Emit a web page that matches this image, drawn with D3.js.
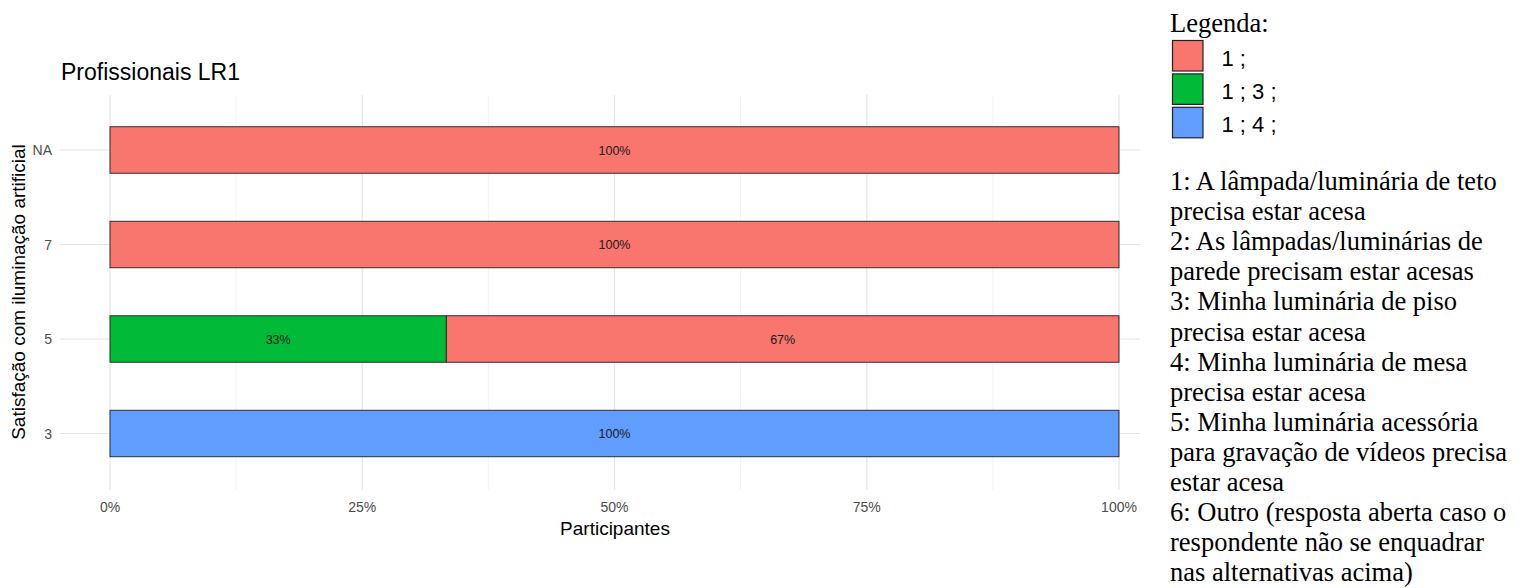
<!DOCTYPE html>
<html><head><meta charset="utf-8">
<script src="https://cdn.jsdelivr.net/npm/d3@7"></script>
<style>body{margin:0;background:#fff}</style>
</head><body>
<svg id="c" width="1523" height="588"></svg>
<script>
const categories = ["NA", "7", "5", "3"];
const groups = ["1 ;", "1 ; 3 ;", "1 ; 4 ;"];
const colors = ["#F8766D", "#00BA38", "#619CFF"];
// stacked segments per category (order left to right)
const segCategory = ["NA", "7", "5", "5", "3"];
const segGroup    = ["1 ;", "1 ;", "1 ; 3 ;", "1 ;", "1 ; 4 ;"];
const segValue    = [1.0, 1.0, 1/3, 2/3, 1.0];
const segLabel    = ["100%", "100%", "33%", "67%", "100%"];
const xTicks = [0, 0.25, 0.5, 0.75, 1];
const xMinor = [0.125, 0.375, 0.625, 0.875];
const notes = [
 "1: A lâmpada/luminária de teto", "precisa estar acesa",
 "2: As lâmpadas/luminárias de", "parede precisam estar acesas",
 "3: Minha luminária de piso", "precisa estar acesa",
 "4: Minha luminária de mesa", "precisa estar acesa",
 "5: Minha luminária acessória", "para gravação de vídeos precisa", "estar acesa",
 "6: Outro (resposta aberta caso o", "respondente não se enquadrar", "nas alternativas acima)"
];

const sans = "Arial, Liberation Sans, sans-serif";
const serif = "Times New Roman, Liberation Serif, serif";
const svg = d3.select("#c");
const x = d3.scaleLinear().domain([0,1]).range([110,1119]);
const y = d3.scalePoint().domain(categories).range([150,433.5]);
const color = d3.scaleOrdinal().domain(groups).range(colors);
const panelL = 60, panelR = 1140, panelT = 95, panelB = 490;
const barH = 46.5;

// grid
const g = svg.append("g");
g.selectAll(".minor").data(xMinor).join("line")
 .attr("x1", d=>x(d)).attr("x2", d=>x(d)).attr("y1", panelT).attr("y2", panelB)
 .attr("stroke", "#ebebeb").attr("stroke-width", 0.6);
g.selectAll(".major").data(xTicks).join("line")
 .attr("x1", d=>x(d)).attr("x2", d=>x(d)).attr("y1", panelT).attr("y2", panelB)
 .attr("stroke", "#e6e6e6").attr("stroke-width", 1.2);
g.selectAll(".hmaj").data(categories).join("line")
 .attr("x1", panelL).attr("x2", panelR).attr("y1", d=>y(d)).attr("y2", d=>y(d))
 .attr("stroke", "#e6e6e6").attr("stroke-width", 1.2);

// bars
const segs = segValue.map((v,i)=>{
  let start = 0;
  for (let j=0;j<i;j++) if (segCategory[j]===segCategory[i]) start += segValue[j];
  return {cat: segCategory[i], grp: segGroup[i], x0: start, x1: start+v, label: segLabel[i]};
});
svg.append("g").selectAll("rect").data(segs).join("rect")
 .attr("x", d=>x(d.x0)).attr("width", d=>x(d.x1)-x(d.x0))
 .attr("y", d=>y(d.cat)-barH/2).attr("height", barH)
 .attr("fill", d=>color(d.grp)).attr("stroke", "#222").attr("stroke-width", 0.9);
svg.append("g").selectAll("text").data(segs).join("text")
 .attr("x", d=>x((d.x0+d.x1)/2)).attr("y", d=>y(d.cat)+4.5)
 .attr("text-anchor","middle").attr("font-family",sans)
 .attr("font-size", 12.5).attr("fill","#1a1a1a").text(d=>d.label);

// axes labels
svg.append("g").selectAll("text").data(xTicks).join("text")
 .attr("x", d=>x(d)).attr("y", 512).attr("text-anchor","middle")
 .attr("font-family",sans).attr("font-size", 14).attr("fill","#4d4d4d")
 .text(d=>d3.format(".0%")(d));
svg.append("g").selectAll("text").data(categories).join("text")
 .attr("x", 52).attr("y", d=>y(d)+5).attr("text-anchor","end")
 .attr("font-family",sans).attr("font-size", 14).attr("fill","#4d4d4d")
 .text(d=>d);
svg.append("text").attr("x", 615).attr("y", 535).attr("text-anchor","middle")
 .attr("font-family",sans).attr("font-size", 19).attr("fill","#000")
 .text("Participantes");
svg.append("text").attr("transform","translate(25,292) rotate(-90)").attr("text-anchor","middle")
 .attr("font-family",sans).attr("font-size", 19).attr("fill","#000")
 .text("Satisfação com iluminação artificial");
svg.append("text").attr("x", 61).attr("y", 80)
 .attr("font-family",sans).attr("font-size", 23).attr("fill","#000")
 .text("Profissionais LR1");

// legend
const lg = svg.append("g");
lg.append("text").attr("x", 1170).attr("y", 32)
 .attr("font-family",serif).attr("font-size", 26.5).attr("fill","#000")
 .text("Legenda:");
const key = lg.selectAll("g.k").data(groups).join("g").attr("class","k")
 .attr("transform", (d,i)=>`translate(1172.5,${40.5+i*33.4})`);
key.append("rect").attr("width", 30.5).attr("height", 30.5)
 .attr("fill", d=>color(d)).attr("stroke","#222").attr("stroke-width",1.2);
key.append("text").attr("x", 49).attr("y", 25)
 .attr("font-family",sans).attr("font-size", 22).attr("fill","#000")
 .text(d=>d);
lg.selectAll("text.n").data(notes).join("text").attr("class","n")
 .attr("x", 1170).attr("y", (d,i)=>190 + i*30.1)
 .attr("font-family",serif).attr("font-size", 26.5).attr("fill","#000")
 .text(d=>d);
</script>
</body></html>
